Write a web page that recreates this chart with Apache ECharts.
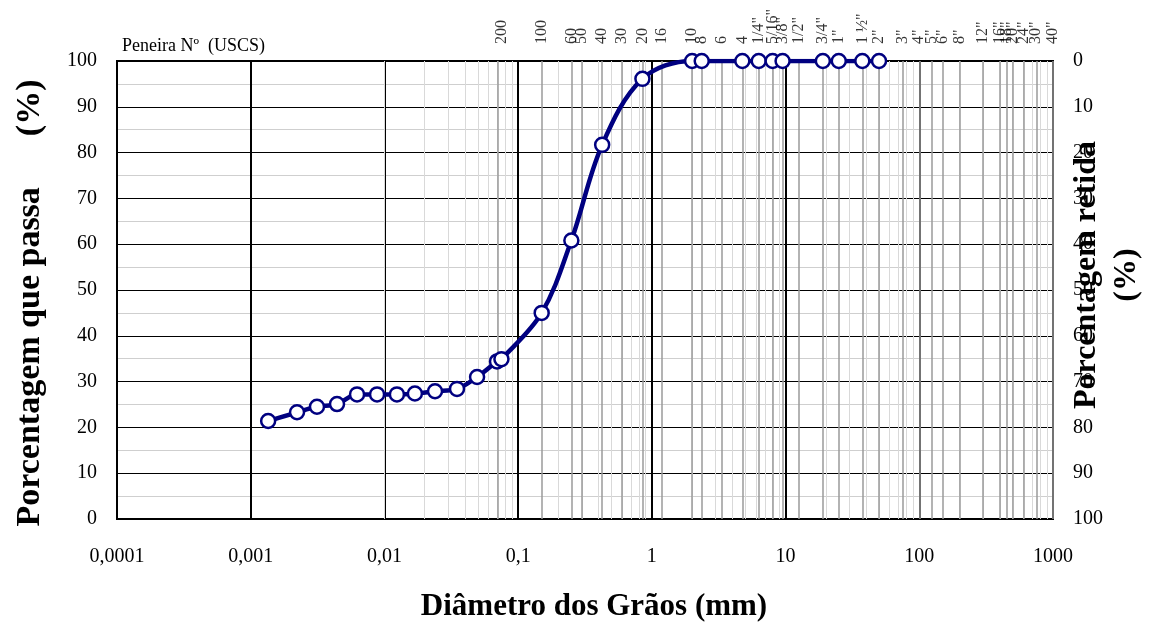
<!DOCTYPE html>
<html>
<head>
<meta charset="utf-8">
<script src="https://cdn.jsdelivr.net/npm/echarts@6/dist/echarts.min.js"></script>
<style>
  html, body { margin: 0; padding: 0; background: #fff; }
  #chart { width: 1153px; height: 622px; }
</style>
</head>
<body>
<div id="chart"></div>
<script>
// grain size curve (diameter in mm, % passing)
const diameters = [0.00135, 0.00222, 0.00313, 0.00442, 0.00624, 0.00881, 0.0124, 0.0169, 0.0239, 0.0349,
  0.0493, 0.0695, 0.075, 0.15, 0.25, 0.425, 0.85, 2.0, 2.36, 4.75, 6.3, 8.0, 9.5, 19, 25, 37.5, 50];
const passing = [21.4, 23.3, 24.5, 25.1, 27.2, 27.2, 27.2, 27.4, 27.9, 28.4,
  31.0, 34.4, 34.9, 45.0, 60.8, 81.7, 96.1, 100, 100, 100, 100, 100, 100, 100, 100, 100, 100];

// sieve openings (mm) and their names
const sieveSizes = [0.075, 0.15, 0.25, 0.3, 0.425, 0.6, 0.85, 1.18, 2, 2.36, 3.35, 4.75, 6.3, 8, 9.5, 12.5,
  19, 25, 37.5, 50, 75, 100, 125, 150, 200, 300, 400, 450, 500, 600, 750, 1000];
const sieveLabels = ["200", "100", "60", "50", "40", "30", "20", "16", "10", "8", "6", "4",
  '1/4"', '5/16"', '3/8"', '1/2"', '3/4"', '1"', '1 ½"', '2"', '3"', '4"', '5"', '6"', '8"',
  '12"', '16"', '18"', '20"', '24"', '30"', '40"'];

const xTickLabels = { 0.0001: "0,0001", 0.001: "0,001", 0.01: "0,01", 0.1: "0,1", 1: "1", 10: "10", 100: "100", 1000: "1000" };

const font = "Liberation Serif, Times New Roman, serif";

// light minor log grid lines (2..9 in every decade)
const minorLines = [];
for (let e = -4; e < 3; e++) {
  for (let m = 2; m <= 9; m++) {
    minorLines.push({ xAxis: m * Math.pow(10, e), lineStyle: { color: "#d9d9d9", width: 1, type: "solid" } });
  }
}
const sieveLines = sieveSizes.map((s) => ({ xAxis: s, lineStyle: { color: "#9a9a9a", width: 1.5, type: "solid" } }));

const chart = echarts.init(document.getElementById("chart"));

chart.setOption({
  animation: false,
  textStyle: { fontFamily: font },
  grid: {
    left: 117,
    right: 100,
    top: 61,
    bottom: 103,
    outerBoundsMode: "none",
    containLabel: false,
    show: true,
    borderColor: "#000",
    borderWidth: 2,
  },
  graphic: [
    {
      type: "text",
      left: 122,
      top: 37,
      style: { text: "Peneira Nº  (USCS)", font: "18px " + font, fill: "#000" },
    },
    {
      // right axis title, sits over the tick labels like the original
      type: "text",
      x: 1087,
      y: 275,
      rotation: Math.PI / 2,
      style: {
        text: "Porcentagem retida",
        font: "bold 32px " + font,
        fill: "#000",
        textAlign: "center",
        textVerticalAlign: "middle",
      },
    },
    {
      type: "text",
      x: 1127,
      y: 275,
      rotation: Math.PI / 2,
      style: {
        text: "(%)",
        font: "bold 32px " + font,
        fill: "#000",
        textAlign: "center",
        textVerticalAlign: "middle",
      },
    },
  ],
  xAxis: {
    type: "log",
    logBase: 10,
    min: 0.0001,
    max: 1000,
    name: "Diâmetro dos Grãos (mm)",
    nameLocation: "middle",
    nameGap: 72,
    nameTextStyle: { fontSize: 31, fontWeight: "bold", color: "#000", fontFamily: font, padding: [0, 0, 0, 18] },
    axisLine: { show: true, lineStyle: { color: "#000", width: 2 } },
    axisTick: { show: false },
    axisLabel: {
      margin: 28,
      fontSize: 20,
      color: "#000",
      fontFamily: font,
      formatter: (v) => xTickLabels[v] || String(v).replace(".", ","),
    },
    splitLine: { show: true, lineStyle: { color: "#000", width: 2 } },
  },
  yAxis: [
    {
      type: "value",
      min: 0,
      max: 100,
      interval: 10,
      name: "Porcentagem que passa      (%)",
      nameLocation: "middle",
      nameGap: 70,
      nameTextStyle: { fontSize: 34, fontWeight: "bold", color: "#000", fontFamily: font, padding: [0, 26, 0, 0] },
      axisLine: { show: true, lineStyle: { color: "#000", width: 2 } },
      axisTick: { show: false },
      axisLabel: { margin: 20, fontSize: 20, color: "#000", fontFamily: font },
      splitLine: { show: true, lineStyle: { color: "#000", width: 1 } },
      minorTick: { show: false, splitNumber: 2 },
      minorSplitLine: { show: true, lineStyle: { color: "#cfcfcf", width: 1 } },
    },
    {
      type: "value",
      min: 0,
      max: 100,
      interval: 10,
      inverse: true,
      position: "right",
      axisLine: { show: true, lineStyle: { color: "#000", width: 2 } },
      axisTick: { show: false },
      axisLabel: { margin: 20, fontSize: 20, color: "#000", fontFamily: font },
      splitLine: { show: false },
    },
  ],
  series: [
    {
      // sieve names on top + vertical guide lines
      type: "scatter",
      yAxisIndex: 0,
      symbolSize: 0,
      silent: true,
      z: 1,
      data: sieveSizes.map((s) => [s, 100]),
      label: {
        show: true,
        position: "top",
        distance: 17,
        rotate: 90,
        align: "left",
        verticalAlign: "middle",
        fontSize: 16,
        color: "#000",
        fontFamily: font,
        formatter: (p) => sieveLabels[p.dataIndex],
      },
      markLine: {
        silent: true,
        symbol: ["none", "none"],
        label: { show: false },
        data: minorLines.concat(sieveLines),
      },
    },
    {
      type: "line",
      yAxisIndex: 0,
      smooth: 0.35,
      z: 5,
      data: diameters.map((d, i) => [d, passing[i]]),
      lineStyle: { color: "#000080", width: 4.5 },
      symbol: "circle",
      symbolSize: 14,
      itemStyle: { color: "#fff", borderColor: "#000080", borderWidth: 2.5 },
    },
  ],
});
</script>
</body>
</html>
